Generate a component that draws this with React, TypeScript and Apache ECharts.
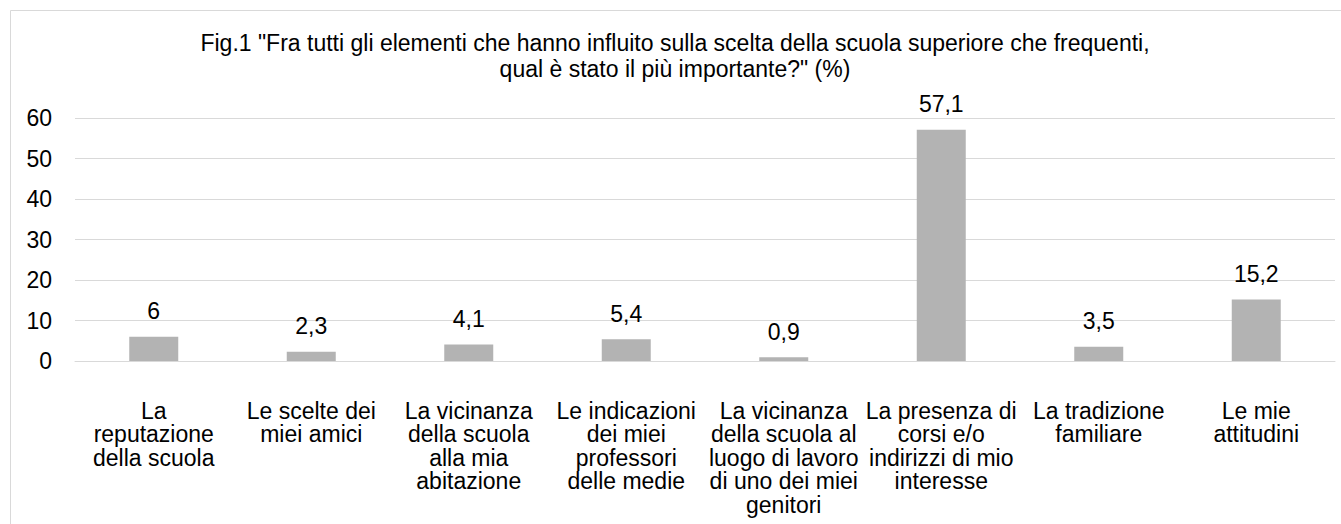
import React, { useEffect, useRef } from "react";
import * as echarts from "echarts";

const categories = [
  "La\nreputazione\ndella scuola",
  "Le scelte dei\nmiei amici",
  "La vicinanza\ndella scuola\nalla mia\nabitazione",
  "Le indicazioni\ndei miei\nprofessori\ndelle medie",
  "La vicinanza\ndella scuola al\nluogo di lavoro\ndi uno dei miei\ngenitori",
  "La presenza di\ncorsi e/o\nindirizzi di mio\ninteresse",
  "La tradizione\nfamiliare",
  "Le mie\nattitudini",
];
const values = [6, 2.3, 4.1, 5.4, 0.9, 57.1, 3.5, 15.2];
const yTicks = { min: 0, max: 60, interval: 10 };
const titleText =
  'Fig.1 "Fra tutti gli elementi che hanno influito sulla scelta della scuola superiore che frequenti,\nqual è stato il più importante?" (%)';

const FONT = "'Liberation Sans', Arial, sans-serif";
const FS = 23;

export default function App() {
  const ref = useRef<HTMLDivElement>(null);
  useEffect(() => {
    document.body.style.margin = "0";
    const chart = echarts.init(ref.current!, undefined, { renderer: "svg" });
    chart.setOption({
      animation: false,
      backgroundColor: "#ffffff",
      textStyle: { fontFamily: FONT },
      graphic: [
        {
          type: "rect",
          shape: { x: 10.5, y: 10.5, width: 1345, height: 530 },
          style: { fill: "none", stroke: "#d9d9d9", lineWidth: 1 },
          silent: true,
        },
      ],
      title: {
        text: titleText,
        left: 670,
        top: 25,
        textAlign: "center",
        textStyle: {
          fontFamily: FONT,
          fontSize: FS,
          fontWeight: "normal",
          color: "#000",
          lineHeight: 26,
          align: "center",
        },
      },
      grid: { left: 75, right: 6, top: 118, bottom: 163, containLabel: false },
      xAxis: {
        type: "category",
        data: categories,
        axisLine: { show: true, lineStyle: { color: "#d9d9d9", width: 1 } },
        axisTick: { show: false },
        axisLabel: {
          interval: 0,
          margin: 38,
          fontFamily: FONT,
          fontSize: FS,
          color: "#000",
          lineHeight: 23.5,
        },
      },
      yAxis: {
        type: "value",
        min: yTicks.min,
        max: yTicks.max,
        interval: yTicks.interval,
        axisLine: { show: false },
        axisTick: { show: false },
        splitLine: { show: true, lineStyle: { color: "#d9d9d9", width: 1 } },
        axisLabel: {
          margin: 23,
          fontFamily: FONT,
          fontSize: FS,
          color: "#000",
        },
      },
      series: [
        {
          type: "bar",
          data: values,
          barWidth: 49,
          itemStyle: { color: "#b3b3b3" },
          label: {
            show: true,
            position: "top",
            distance: 14,
            fontFamily: FONT,
            fontSize: FS,
            color: "#000",
            formatter: (p: any) => String(p.value).replace(".", ","),
          },
        },
      ],
    });
    return () => chart.dispose();
  }, []);
  return <div ref={ref} style={{ width: 1341, height: 524 }} />;
}
